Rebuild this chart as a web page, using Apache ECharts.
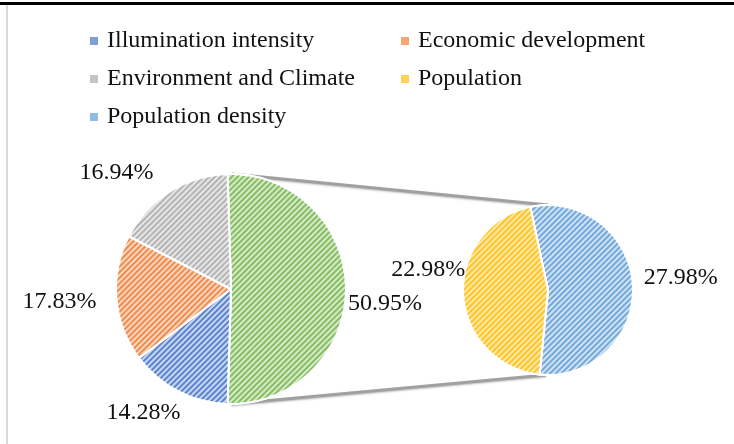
<!DOCTYPE html>
<html>
<head>
<meta charset="utf-8">
<script src="https://cdn.jsdelivr.net/npm/echarts@6/dist/echarts.min.js"></script>
<style>html,body{margin:0;padding:0;background:#fff;}#c{width:734px;height:444px;}</style>
</head>
<body>
<div id="c"></div>
<script>
// ---- data ----
var mainNames = ['Other', 'Illumination intensity', 'Economic development', 'Environment and Climate'];
var mainValues = [50.95, 14.28, 17.83, 16.94];
var subNames = ['Population density', 'Population'];
var subValues = [27.98, 22.98];
var legendNames = ['Illumination intensity', 'Economic development', 'Environment and Climate', 'Population', 'Population density'];

// ---- style ----
var stripe = {
  'Other': ['#d6eac8', '#86bd62', '#a9d08e'],
  'Illumination intensity': ['#c9d6f0', '#5a84cf', '#7f9fdb'],
  'Economic development': ['#fad6bf', '#ef8c4e', '#f4a673'],
  'Environment and Climate': ['#e6e6e6', '#b4b4b4', '#c4c4c4'],
  'Population': ['#ffe9a8', '#ffc425', '#ffd24f'],
  'Population density': ['#d0e2f4', '#72a9dc', '#8fbbe4']
};
function itemStyleFor(name) {
  return {
    color: stripe[name][0],
    borderColor: '#fff',
    borderWidth: 2,
    decal: {
      symbol: 'rect',
      symbolSize: 1,
      color: stripe[name][1],
      dashArrayX: [1, 0],
      dashArrayY: [2, 2],
      rotation: -Math.PI / 4
    }
  };
}
var font = "Times New Roman, Liberation Serif, serif";
var C1 = [231, 289], R1 = 115;
var C2 = [548, 290], R2 = 85;
var start1 = 90 + (mainValues[0] / 100 * 360 - 180) / 2;
var start2 = 102;

var mainData = mainNames.map(function (n, i) { return { name: n, value: mainValues[i], itemStyle: itemStyleFor(n) }; });
var subData = subNames.map(function (n, i) { return { name: n, value: subValues[i], itemStyle: itemStyleFor(n) }; });

var legendPos = [[90, 29], [401, 29], [90, 67], [401, 67], [90, 105]];
var legends = legendNames.map(function (n, i) {
  return {
    data: [{ name: n, itemStyle: { color: stripe[n][2], decal: 'none', borderWidth: 0 } }],
    left: legendPos[i][0], top: legendPos[i][1], padding: 0,
    itemWidth: 8, itemHeight: 8, selectedMode: false, icon: 'rect',
    textStyle: { fontFamily: font, fontSize: 24, color: '#111', padding: [0, 0, 0, 4] }
  };
});

// connector lines computed from pie geometry
var a1 = start1 * Math.PI / 180;
var a1b = (start1 - mainValues[0] / 100 * 360) * Math.PI / 180;
var p1 = [C1[0] + R1 * Math.cos(a1), C1[1] - R1 * Math.sin(a1)];
var p2 = [C1[0] + R1 * Math.cos(a1b), C1[1] - R1 * Math.sin(a1b)];
var q1 = [C2[0], C2[1] - R2];
var q2 = [C2[0] - 2, C2[1] + R2];
var lineStyle = { stroke: '#a0a0a0', lineWidth: 3, shadowBlur: 2, shadowColor: 'rgba(0,0,0,0.25)', shadowOffsetY: 1 };

var labelCfg = { show: true, position: 'outside', formatter: '{c}%', fontFamily: font, fontSize: 24, color: '#111', overflow: 'none' };
// label nudges (dx, dy) per series / data index
var nudges = [
  [[-18, 15], [17, 13], [0, 2], [-1, -11]],
  [[-9, -7], [22, -26]]
];

var chart = echarts.init(document.getElementById('c'), null, { renderer: 'canvas' });
chart.setOption({
  animation: false,
  backgroundColor: '#fff',
  legend: legends,
  graphic: [
    { type: 'rect', shape: { x: 0, y: 2, width: 734, height: 3 }, style: { fill: '#000' } },
    { type: 'rect', shape: { x: 6, y: 5, width: 2, height: 439 }, style: { fill: '#d9d9d9' } },
    { type: 'line', shape: { x1: p1[0] + 4, y1: p1[1], x2: q1[0], y2: q1[1] }, style: lineStyle, z: -1 },
    { type: 'line', shape: { x1: p2[0] + 4, y1: p2[1], x2: q2[0], y2: q2[1] }, style: lineStyle, z: -1 }
  ],
  series: [
    {
      type: 'pie', center: C1, radius: R1, startAngle: start1, clockwise: true,
      avoidLabelOverlap: false,
      data: mainData,
      label: labelCfg,
      labelLine: { show: false, length: 10, length2: 5 },
      labelLayout: function (p) { var n = nudges[0][p.dataIndex]; return { dx: n[0], dy: n[1] }; },
      emphasis: { disabled: true }
    },
    {
      type: 'pie', center: C2, radius: R2, startAngle: start2, clockwise: true,
      avoidLabelOverlap: false,
      data: subData,
      label: labelCfg,
      labelLine: { show: false, length: 10, length2: 5 },
      labelLayout: function (p) { var n = nudges[1][p.dataIndex]; return { dx: n[0], dy: n[1] }; },
      emphasis: { disabled: true }
    }
  ]
});
</script>
</body>
</html>
